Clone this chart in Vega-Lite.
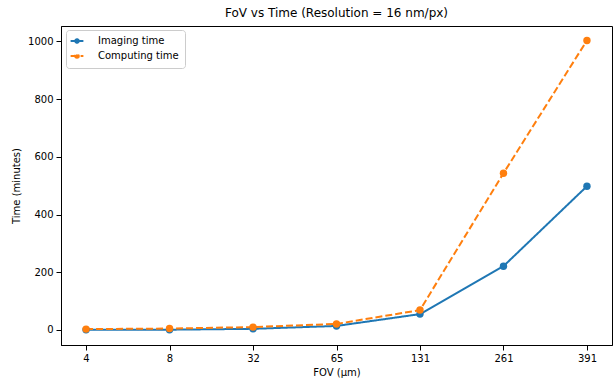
{
  "$schema": "https://vega.github.io/schema/vega-lite/v6.json",
  "autosize": "none",
  "width": 551,
  "height": 319,
  "padding": {"left": 61, "top": 26, "right": 1, "bottom": 34},
  "background": "white",
  "title": {"text": "FoV vs Time (Resolution = 16 nm/px)", "font": "DejaVu Sans", "fontSize": 12, "fontWeight": "normal", "color": "black", "offset": 6},
  "config": {
    "font": "DejaVu Sans",
    "view": {"stroke": "black", "strokeWidth": 1},
    "axis": {"grid": false, "domainColor": "black", "tickColor": "black", "labelColor": "black", "titleColor": "black", "labelFontSize": 10, "titleFontSize": 10, "titleFontWeight": "normal", "tickSize": 5, "labelPadding": 3}
  },
  "data": {"values": [
    {"fov": "4", "order": 1, "series": "Imaging time", "time": 0.5},
    {"fov": "8", "order": 2, "series": "Imaging time", "time": 1},
    {"fov": "32", "order": 3, "series": "Imaging time", "time": 4},
    {"fov": "65", "order": 4, "series": "Imaging time", "time": 14},
    {"fov": "131", "order": 5, "series": "Imaging time", "time": 55},
    {"fov": "261", "order": 6, "series": "Imaging time", "time": 221},
    {"fov": "391", "order": 7, "series": "Imaging time", "time": 498},
    {"fov": "4", "order": 1, "series": "Computing time", "time": 3},
    {"fov": "8", "order": 2, "series": "Computing time", "time": 5},
    {"fov": "32", "order": 3, "series": "Computing time", "time": 10},
    {"fov": "65", "order": 4, "series": "Computing time", "time": 21},
    {"fov": "131", "order": 5, "series": "Computing time", "time": 69},
    {"fov": "261", "order": 6, "series": "Computing time", "time": 543},
    {"fov": "391", "order": 7, "series": "Computing time", "time": 1003}
  ]},
  "mark": {"type": "line", "strokeWidth": 2, "point": {"filled": true, "size": 55, "opacity": 1}},
  "encoding": {
    "x": {"field": "fov", "type": "ordinal", "sort": ["4", "8", "32", "65", "131", "261", "391"], "scale": {"type": "point", "padding": 0.3}, "axis": {"title": "FOV (µm)", "labelAngle": 0}},
    "y": {"field": "time", "type": "quantitative", "scale": {"domain": [-52, 1053], "nice": false, "zero": false}, "axis": {"title": "Time (minutes)", "values": [0, 200, 400, 600, 800, 1000], "format": "d", "titlePadding": 6}},
    "order": {"field": "order"},
    "color": {"field": "series", "type": "nominal", "scale": {"domain": ["Imaging time", "Computing time"], "range": ["#1f77b4", "#ff7f0e"]},
      "legend": {"title": null, "orient": "none", "legendX": 5, "legendY": 4, "fillColor": "white", "strokeColor": "#cccccc", "cornerRadius": 3, "padding": 6, "labelFontSize": 10, "labelColor": "black", "symbolType": "M-1.6,0H1.6M-0.45,0A0.45,0.45 0 1,0 0.45,0A0.45,0.45 0 1,0 -0.45,0", "symbolSize": 64, "symbolStrokeWidth": 2, "rowPadding": 3, "labelOffset": 16, "symbolDash": []}},
    "strokeDash": {"field": "series", "type": "nominal", "scale": {"domain": ["Imaging time", "Computing time"], "range": [[1, 0], [7, 3]]}, "legend": null}
  }
}
